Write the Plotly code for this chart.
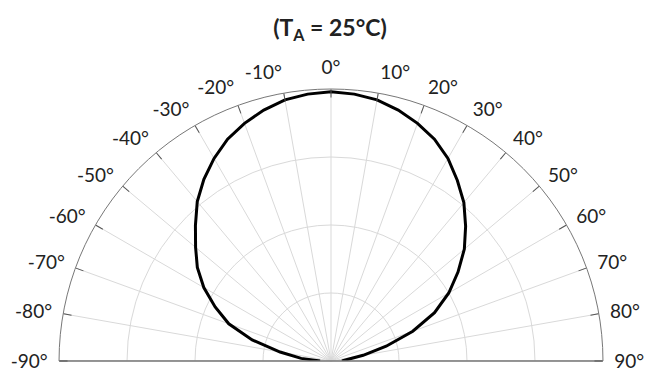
import plotly.graph_objects as go

# relative intensity vs angle (deg)
angles = [-90, -85, -80, -75, -70, -65, -60, -55, -50, -45, -40, -35, -30, -25, -20, -15, -10, -5,
          0, 5, 10, 15, 20, 25, 30, 35, 40, 45, 50, 55, 60, 65, 70, 75, 80, 85, 90]
intensity = [0.04, 0.11, 0.19, 0.30, 0.40, 0.47, 0.54, 0.60, 0.65, 0.705, 0.765, 0.815, 0.86, 0.90, 0.93, 0.955, 0.975, 0.985,
             0.99, 0.985, 0.975, 0.955, 0.93, 0.90, 0.86, 0.81, 0.76, 0.70, 0.64, 0.57, 0.50, 0.42, 0.32, 0.21, 0.12, 0.06, 0.04]

tick_angles = list(range(-90, 91, 10))
tick_labels = [f"{a}°" for a in tick_angles]
ring_vals = [0.25, 0.5, 0.75, 1.0]

font = "Lato, 'Open Sans', sans-serif"
dom_x = [0.0912, 0.932]
dom_y = [0.0348, 0.762]

fig = go.Figure()
fig.add_trace(go.Scatterpolar(
    r=intensity, theta=angles, mode="lines",
    line=dict(color="black", width=3),
    showlegend=False, subplot="polar"))

# main axis: grid, outer arc, labels (transparent outside ticks just push labels out)
angular = dict(
    rotation=90, direction="clockwise",
    tickmode="array", tickvals=tick_angles, ticktext=tick_labels,
    ticks="outside", ticklen=7, tickcolor="rgba(0,0,0,0)",
    showgrid=True, gridcolor="#d9d9d9", gridwidth=1,
    showline=True, linecolor="#777777", linewidth=1,
    tickfont=dict(family=font, size=19, color="#222222"))

fig.update_layout(
    width=647, height=374,
    margin=dict(l=0, r=0, t=0, b=0),
    paper_bgcolor="white",
    font=dict(family=font),
    title=dict(text="<b>(T<sub>A</sub> = 25°C)</b>", x=0.51, xanchor="center", y=0.925, yanchor="middle",
               font=dict(family=font, size=23, color="#222222")),
    polar=dict(
        domain=dict(x=dom_x, y=dom_y),
        sector=[0, 180], bgcolor="rgba(0,0,0,0)",
        angularaxis=angular,
        radialaxis=dict(range=[0, 1], tickvals=ring_vals, showticklabels=False, ticks="",
                        gridcolor="#d9d9d9", showline=True, linecolor="#777777", linewidth=1, angle=180)),
    # second overlay: right half of the baseline and the inside tick marks
    polar2=dict(
        domain=dict(x=dom_x, y=dom_y),
        sector=[0, 180], bgcolor="rgba(0,0,0,0)",
        angularaxis=dict(rotation=90, direction="clockwise", showgrid=False, showline=False,
                         tickmode="array", tickvals=tick_angles, showticklabels=False,
                         ticks="inside", ticklen=8, tickcolor="#555555", tickwidth=1),
        radialaxis=dict(range=[0, 1], showgrid=False, showticklabels=False, ticks="",
                        showline=True, linecolor="#777777", linewidth=1, angle=0)),
)
# empty trace so polar2 gets drawn
fig.add_trace(go.Scatterpolar(r=[0], theta=[0], mode="lines", showlegend=False,
                              subplot="polar2", hoverinfo="skip"))

# drop the default 8px body margin so the figure fills the window
fig.write_html("out.html", config={"displayModeBar": False},
               post_script="document.body.style.margin='0px';")
